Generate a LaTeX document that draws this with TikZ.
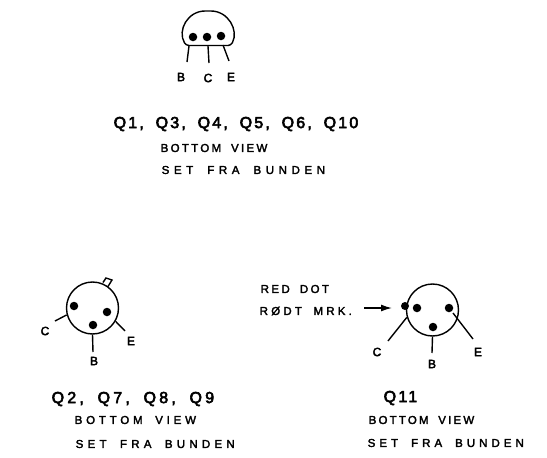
\documentclass[tikz,border=0pt]{standalone}
\usepackage{fontspec}
\setmainfont{Liberation Sans}[WordSpace=1.8]
\usetikzlibrary{positioning}
\usetikzlibrary{arrows.meta}

\tikzset{
  pin/.style={fill,circle,inner sep=0pt,minimum size=8.5pt},
  can/.style={draw,circle,inner sep=0pt,minimum size=52pt},
  lead/.style={line width=1.4pt},
  pinlabel/.style={inner sep=0pt,font=\fontsize{12}{12}\selectfont\addfontfeature{FakeBold=3}},
  typelabel/.style={inner sep=0pt,anchor=west,
    font=\fontsize{16}{16}\selectfont\addfontfeature{LetterSpace=#1,FakeBold=3.5}},
  viewlabel/.style={inner sep=0pt,anchor=west,
    font=\fontsize{11.5}{12}\selectfont\addfontfeature{LetterSpace=#1,FakeBold=2.5}}
}

\begin{document}
\begin{tikzpicture}[x=1pt,y=-1pt,line width=1.4pt]
  \useasboundingbox (0,0) rectangle (547,458);

  % dome package
  \draw[rounded corners=3pt] (186,45.5) .. controls (177,30) and (188,11) .. (208,11)
    .. controls (228,11) and (239,30) .. (231,45.5) -- cycle;
  \node[pin] (q1b) at (193,37) {};
  \node[pin] (q1c) at (207,37) {};
  \node[pin] (q1e) at (221,36) {};
  \coordinate (q1bs) at (189,46);
  \coordinate (q1bt) at (187,62);
  \coordinate (q1cs) at (208,46);
  \coordinate (q1ct) at (209,63);
  \coordinate (q1es) at (223,45);
  \coordinate (q1et) at (229,61);
  \draw[lead] (q1bs) -- (q1bt);
  \draw[lead] (q1cs) -- (q1ct);
  \draw[lead] (q1es) -- (q1et);
  \node[pinlabel] (q1blabel) at (181,77) {B};
  \node[pinlabel] (q1clabel) at (208,78) {C};
  \node[pinlabel] (q1elabel) at (231,77) {E};

  \node[typelabel=13.5] (q1type) at (113,124) {Q1, Q3, Q4, Q5, Q6, Q10};
  \node[viewlabel=20] (q1view) at (160,148) {BOTTOM VIEW};
  \node[viewlabel=40] (q1set) at (161,170) {SET FRA BUNDEN};

  % tab package
  \node[can] (q2) at (92.5,308) {};
  \draw (103,282.5) -- (106,278) -- (112,280) -- (108,286.5);
  \node[pin] (q2c) at (74,306) {};
  \node[pin] (q2e) at (107,312) {};
  \node[pin] (q2b) at (93,325) {};
  \coordinate (q2ct) at (55,321);
  \coordinate (q2bt) at (93,352);
  \coordinate (q2et) at (125,331);
  \draw[lead] (q2.195) -- (q2ct);
  \draw[lead] (q2.270) -- (q2bt);
  \draw[lead] (q2.330) -- (q2et);
  \node[pinlabel] (q2clabel) at (45,331) {C};
  \node[pinlabel] (q2blabel) at (94,361) {B};
  \node[pinlabel] (q2elabel) at (131,341) {E};

  \node[typelabel=20] (q2type) at (51,399) {Q2, Q7, Q8, Q9};
  \node[viewlabel=33] (q2view) at (74,420) {BOTTOM VIEW};
  \node[viewlabel=37] (q2set) at (75,444) {SET FRA BUNDEN};

  % red dot package
  \node[can] (q11) at (432.5,310) {};
  \node[pin,minimum size=8pt] (q11red) at (405,306) {};
  \node[pin] (q11c) at (417,308) {};
  \node[pin] (q11e) at (449,308) {};
  \node[pin] (q11b) at (433,327) {};
  \coordinate (q11es) at (453,313);
  \coordinate (q11ct) at (388,341);
  \coordinate (q11bt) at (432,353);
  \coordinate (q11et) at (473,339);
  \draw[lead] (q11.196) -- (q11ct);
  \draw[lead] (q11.270) -- (q11bt);
  \draw[lead] (q11es) -- (q11et);
  \node[pinlabel] (q11clabel) at (377,352) {C};
  \node[pinlabel] (q11blabel) at (432,364) {B};
  \node[pinlabel] (q11elabel) at (478,352) {E};

  \node[viewlabel=21] (reddot) at (260,289) {RED DOT};
  \node[viewlabel=28] (roedt) at (259,311) {RØDT MRK.};
  \coordinate (arrowstart) at (364,308);
  \coordinate (arrowend) at (392,308);
  \draw[-{Latex[length=11pt,width=7pt]},lead] (arrowstart) -- (arrowend);

  \node[typelabel=14] (q11type) at (383,398) {Q11};
  \node[viewlabel=19] (q11view) at (368,420) {BOTTOM VIEW};
  \node[viewlabel=35] (q11set) at (367,443) {SET FRA BUNDEN};

\end{tikzpicture}
\end{document}
